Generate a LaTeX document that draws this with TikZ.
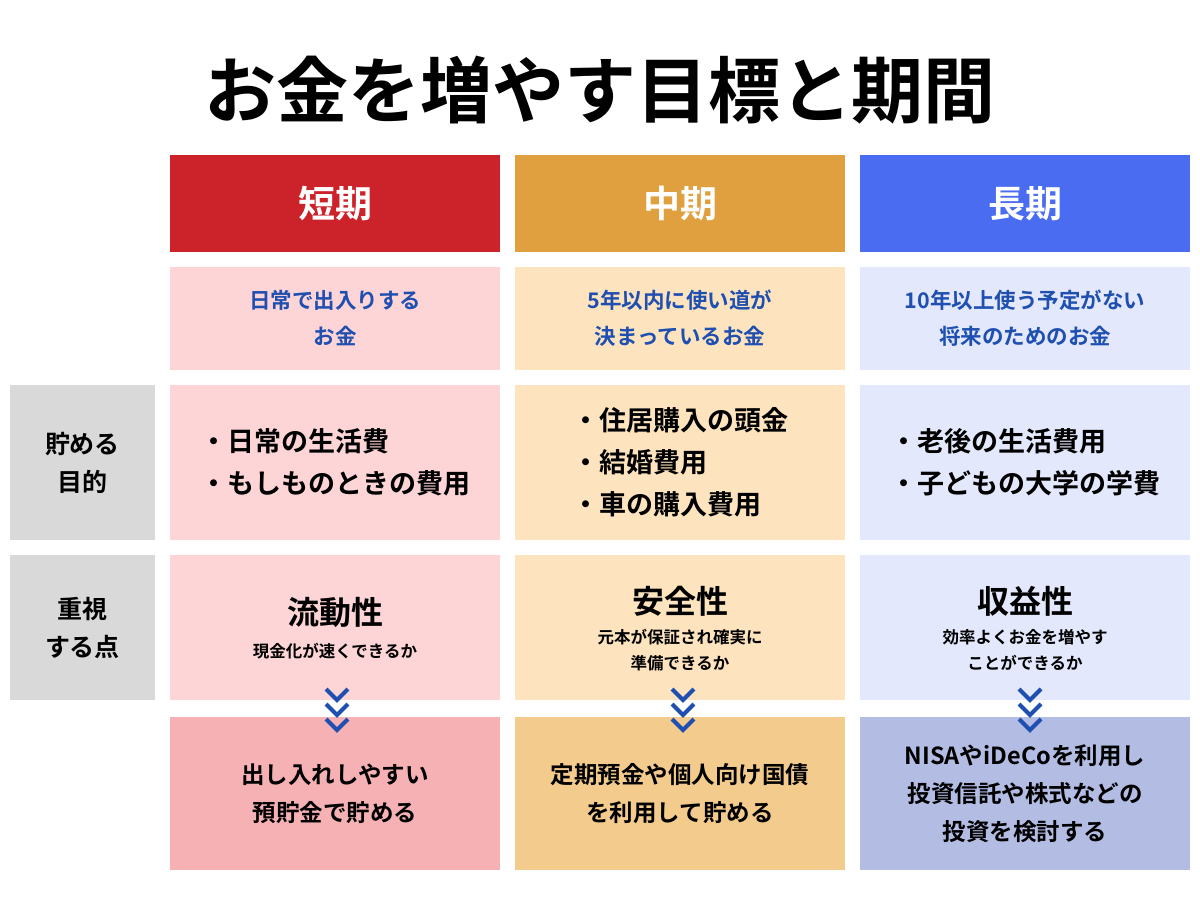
\documentclass[tikz,border=0pt]{standalone}
\usepackage{fontspec}
\setmainfont{Noto Sans CJK JP}[BoldFont={Noto Sans CJK JP Bold}]
\definecolor{hdred}{HTML}{CC2229}
\definecolor{hdorange}{HTML}{E0A040}
\definecolor{hdblue}{HTML}{4A6CF0}
\definecolor{ltred}{HTML}{FDD5D6}
\definecolor{ltorange}{HTML}{FDE4BE}
\definecolor{ltblue}{HTML}{E3E8FC}
\definecolor{mdred}{HTML}{F6B1B4}
\definecolor{mdorange}{HTML}{F3CB8C}
\definecolor{mdblue}{HTML}{B3BDE4}
\definecolor{lgray}{HTML}{D9D9D9}
\definecolor{txblue}{HTML}{1F4FB0}
\tikzset{
  cell/.style={draw=none, minimum width=330pt, inner sep=0pt, align=center, font=\bfseries},
  side/.style={fill=lgray, minimum width=145pt, inner sep=0pt, align=center, font=\bfseries\fontsize{25}{38}\selectfont},
  chev/.style={draw=txblue, line width=4pt}
}
\begin{document}
\begin{tikzpicture}[x=1pt,y=-1pt]
\useasboundingbox (0,0) rectangle (1200,900);
\fill[white] (0,0) rectangle (1200,900);
\node (title) at (600,90) {\bfseries\fontsize{72}{74}\selectfont お金を増やす目標と期間};
% headers
\node [cell, fill=hdred, minimum height=97pt, text=white, font=\bfseries\fontsize{37}{40}\selectfont] (h1) at (335,203.5) {短期};
\node [cell, fill=hdorange, minimum height=97pt, text=white, font=\bfseries\fontsize{37}{40}\selectfont] (h2) at (680,203.5) {中期};
\node [cell, fill=hdblue, minimum height=97pt, text=white, font=\bfseries\fontsize{37}{40}\selectfont] (h3) at (1025,203.5) {長期};
% descriptions
\node [cell, fill=ltred, minimum height=103pt, text=txblue, font=\bfseries\fontsize{21.5}{36}\selectfont] (d1) at (335,318.5) {日常で出入りする\\お金};
\node [cell, fill=ltorange, minimum height=103pt, text=txblue, font=\bfseries\fontsize{21.5}{36}\selectfont] (d2) at (680,318.5) {5年以内に使い道が\\決まっているお金};
\node [cell, fill=ltblue, minimum height=103pt, text=txblue, font=\bfseries\fontsize{21.5}{36}\selectfont] (d3) at (1025,318.5) {10年以上使う予定がない\\将来のためのお金};
% purpose
\node [side, minimum height=155pt] (s1) at (82.5,462.5) {貯める\\目的};
\node [cell, fill=ltred, minimum height=155pt, align=left, font=\bfseries\fontsize{27}{42}\selectfont] (p1) at (335,462.5) {・日常の生活費\\・もしものときの費用};
\node [cell, fill=ltorange, minimum height=155pt, align=left, font=\bfseries\fontsize{27}{42}\selectfont] (p2) at (680,462.5) {・住居購入の頭金\\・結婚費用\\・車の購入費用};
\node [cell, fill=ltblue, minimum height=155pt, align=left, font=\bfseries\fontsize{27}{42}\selectfont] (p3) at (1025,462.5) {・老後の生活費用\\・子どもの大学の学費};
% points
\node [side, minimum height=145pt] (s2) at (82.5,627.5) {重視\\する点};
\node [cell, fill=ltred, minimum height=145pt] (q1) at (335,627.5) {};
\node [cell, fill=ltorange, minimum height=145pt] (q2) at (680,627.5) {};
\node [cell, fill=ltblue, minimum height=145pt] (q3) at (1025,627.5) {};
\node [font=\bfseries\fontsize{32}{34}\selectfont] (k1) at (335,612) {流動性};
\node [font=\bfseries\fontsize{16.5}{22}\selectfont] (c1) at (335,651) {現金化が速くできるか};
\node [font=\bfseries\fontsize{32}{34}\selectfont] (k2) at (680,601) {安全性};
\node [font=\bfseries\fontsize{16.5}{26}\selectfont, align=center] (c2) at (680,650) {元本が保証され確実に\\準備できるか};
\node [font=\bfseries\fontsize{32}{34}\selectfont] (k3) at (1025,601) {収益性};
\node [font=\bfseries\fontsize{16.5}{26}\selectfont, align=center] (c3) at (1025,650) {効率よくお金を増やす\\ことができるか};
% results
\node [cell, fill=mdred, minimum height=153pt, font=\bfseries\fontsize{23.5}{38}\selectfont] (r1) at (335,793.5) {出し入れしやすい\\預貯金で貯める};
\node [cell, fill=mdorange, minimum height=153pt, font=\bfseries\fontsize{23.5}{38}\selectfont] (r2) at (680,793.5) {定期預金や個人向け国債\\を利用して貯める};
\node [cell, fill=mdblue, minimum height=153pt, font=\bfseries\fontsize{23.5}{38}\selectfont] (r3) at (1025,793.5) {NISAやiDeCoを利用し\\投資信託や株式などの\\投資を検討する};
% chevrons
\foreach \cx in {337,683,1030}
  \foreach \cy in {689,704,719}
    \draw [chev] (\cx-11,\cy) -- (\cx,\cy+11) -- (\cx+11,\cy);
\end{tikzpicture}
\end{document}
